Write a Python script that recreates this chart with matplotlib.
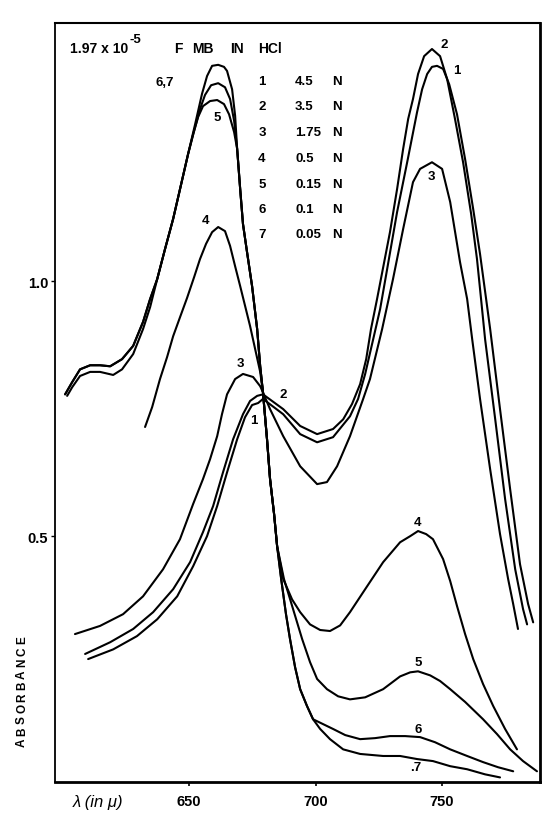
import matplotlib
matplotlib.use("Agg")
import matplotlib.pyplot as plt

plt.rcParams['font.family'] = ['Liberation Sans', 'DejaVu Sans']

W, H = 550, 828

# ---------------- data (wavelength in m\u03bc, absorbance) ----------------
c7_wl = [601.0, 603.8, 606.9, 610.9, 614.8, 618.8, 623.5, 627.9, 631.8, 634.6,
         637.4, 640.5, 643.7, 646.4, 649.6, 652.4, 655.1, 657.1, 659.1, 661.5,
         663.8, 665.0, 667.0, 668.2, 669.0, 670.2, 671.3, 672.9, 674.9, 676.9,
         678.1, 679.2, 680.8, 682.0, 683.6, 684.8, 686.4, 688.3, 689.9, 691.9,
         693.9, 696.6, 699.0, 701.8, 705.7, 710.9, 717.6, 726.7, 733.4, 740.1,
         746.4, 753.2, 759.9, 767.0, 772.9]
c7_a = [0.778, 0.802, 0.827, 0.835, 0.835, 0.833, 0.847, 0.873, 0.920, 0.965,
        1.004, 1.063, 1.122, 1.180, 1.249, 1.308, 1.367, 1.402, 1.422, 1.424,
        1.420, 1.412, 1.376, 1.324, 1.259, 1.180, 1.112, 1.057, 0.990, 0.906,
        0.833, 0.782, 0.690, 0.612, 0.543, 0.480, 0.416, 0.347, 0.298, 0.243,
        0.200, 0.167, 0.141, 0.122, 0.102, 0.082, 0.073, 0.069, 0.069, 0.063,
        0.059, 0.049, 0.043, 0.033, 0.027]

c6_wl = [601.0, 603.8, 606.9, 610.9, 614.8, 618.8, 623.5, 627.9, 631.8, 634.6,
         637.4, 640.5, 643.7, 646.4, 649.6, 652.4, 654.3, 656.3, 658.7, 661.5,
         664.2, 666.2, 667.8, 669.0, 670.2, 671.3, 672.9, 674.9, 676.9, 678.1,
         679.2, 680.8, 682.0, 683.6, 684.8, 686.4, 688.3, 689.9, 691.9, 693.9,
         696.6, 699.0, 706.9, 711.7, 717.6, 723.5, 729.4, 735.4, 741.3, 747.2,
         753.2, 759.9, 766.2, 772.1, 778.1]
c6_a = [0.778, 0.802, 0.827, 0.835, 0.835, 0.833, 0.847, 0.873, 0.920, 0.965,
        1.004, 1.063, 1.122, 1.180, 1.249, 1.302, 1.337, 1.365, 1.384, 1.388,
        1.380, 1.357, 1.314, 1.259, 1.180, 1.112, 1.057, 0.990, 0.906, 0.833,
        0.782, 0.690, 0.612, 0.543, 0.480, 0.416, 0.347, 0.298, 0.243, 0.200,
        0.167, 0.141, 0.122, 0.110, 0.102, 0.104, 0.108, 0.108, 0.106, 0.096,
        0.082, 0.069, 0.057, 0.047, 0.039]

c5_wl = [601.8, 603.8, 606.9, 610.9, 614.8, 620.0, 623.5, 627.9, 631.8, 634.6,
         637.4, 640.5, 643.7, 646.4, 649.6, 651.6, 653.6, 655.5, 658.3, 661.1,
         663.8, 665.8, 667.8, 669.0, 670.2, 671.3, 672.9, 674.9, 676.9, 678.1,
         679.2, 680.8, 682.0, 683.6, 684.8, 687.5, 691.1, 694.7, 697.8, 700.6,
         704.5, 708.9, 713.6, 719.6, 726.7, 733.4, 737.4, 740.5, 745.3, 749.2,
         753.2, 759.1, 766.2, 771.7, 776.9, 782.0, 787.5]
c5_a = [0.775, 0.792, 0.814, 0.822, 0.822, 0.816, 0.827, 0.857, 0.906, 0.949,
        1.004, 1.063, 1.122, 1.180, 1.249, 1.288, 1.322, 1.343, 1.353, 1.355,
        1.347, 1.327, 1.292, 1.259, 1.180, 1.112, 1.057, 0.990, 0.906, 0.833,
        0.782, 0.690, 0.612, 0.543, 0.480, 0.416, 0.357, 0.298, 0.253, 0.220,
        0.200, 0.186, 0.180, 0.184, 0.200, 0.225, 0.233, 0.235, 0.227, 0.216,
        0.200, 0.175, 0.141, 0.112, 0.082, 0.059, 0.039]

c4_wl = [632.6, 635.4, 638.5, 641.3, 643.7, 646.4, 649.2, 652.0, 654.3, 656.7,
         659.1, 661.5, 664.2, 666.2, 668.2, 670.2, 674.1, 678.1, 679.2, 680.8,
         682.0, 683.6, 684.8, 687.2, 690.7, 693.9, 697.8, 701.8, 705.7, 709.7,
         713.6, 719.6, 726.7, 733.4, 737.4, 740.5, 743.7, 746.4, 750.4, 753.2,
         755.9, 759.1, 762.3, 766.2, 770.2, 774.9, 779.6]
c4_a = [0.714, 0.753, 0.808, 0.851, 0.892, 0.929, 0.967, 1.008, 1.043, 1.073,
        1.096, 1.106, 1.098, 1.069, 1.029, 0.990, 0.912, 0.822, 0.782, 0.690,
        0.612, 0.543, 0.480, 0.416, 0.376, 0.351, 0.327, 0.316, 0.314, 0.325,
        0.351, 0.396, 0.449, 0.488, 0.500, 0.510, 0.504, 0.494, 0.455, 0.412,
        0.363, 0.308, 0.259, 0.210, 0.167, 0.122, 0.082]

c3_wl = [604.9, 614.8, 623.9, 631.8, 639.7, 646.4, 651.6, 655.5, 658.3, 661.1,
         663.0, 665.0, 668.2, 671.3, 675.3, 678.1, 679.2, 682.0, 687.2, 693.9,
         700.6, 704.5, 708.5, 713.6, 718.8, 721.5, 726.3, 730.6, 734.6, 738.5,
         741.3, 746.0, 750.0, 753.2, 757.1, 759.9, 761.9, 765.0, 769.0, 772.9,
         776.1, 778.1, 780.0]
c3_a = [0.308, 0.324, 0.347, 0.382, 0.435, 0.494, 0.563, 0.612, 0.651, 0.696,
        0.739, 0.778, 0.808, 0.818, 0.812, 0.794, 0.782, 0.749, 0.696, 0.637,
        0.602, 0.606, 0.637, 0.696, 0.769, 0.808, 0.906, 1.004, 1.102, 1.194,
        1.220, 1.233, 1.220, 1.155, 1.037, 0.965, 0.886, 0.769, 0.631, 0.504,
        0.416, 0.367, 0.318]

c2_wl = [608.9, 618.8, 627.9, 635.8, 643.7, 650.4, 655.5, 659.5, 663.4, 667.4,
         671.3, 674.1, 676.9, 679.2, 687.2, 693.9, 700.6, 706.9, 710.9, 714.4,
         717.6, 720.0, 721.9, 724.3, 727.1, 729.4, 732.2, 734.6, 736.6, 738.5,
         740.5, 742.9, 746.0, 749.2, 752.0, 755.1, 758.3, 761.5, 763.8, 765.4,
         767.0, 771.0, 774.9, 778.9, 782.0, 783.6]
c2_a = [0.269, 0.292, 0.318, 0.351, 0.396, 0.449, 0.508, 0.559, 0.625, 0.690,
        0.739, 0.765, 0.775, 0.778, 0.749, 0.716, 0.700, 0.710, 0.729, 0.759,
        0.798, 0.847, 0.906, 0.965, 1.037, 1.096, 1.180, 1.259, 1.318, 1.357,
        1.406, 1.441, 1.455, 1.441, 1.396, 1.318, 1.233, 1.131, 1.043, 0.965,
        0.886, 0.729, 0.573, 0.435, 0.357, 0.327]

c1_wl = [610.1, 620.0, 629.4, 637.4, 645.3, 651.6, 657.1, 661.1, 665.0, 669.0,
         672.1, 674.9, 677.3, 679.2, 687.2, 693.9, 700.6, 706.9, 713.6, 716.8,
         719.6, 722.3, 725.5, 728.3, 732.2, 736.2, 740.1, 742.1, 744.1, 746.0,
         748.0, 750.4, 752.8, 755.9, 759.1, 762.3, 765.0, 767.4, 769.0, 772.9,
         776.9, 780.8, 784.0, 786.0]
c1_a = [0.259, 0.278, 0.304, 0.337, 0.382, 0.441, 0.500, 0.559, 0.625, 0.690,
        0.733, 0.757, 0.761, 0.769, 0.739, 0.700, 0.684, 0.694, 0.735, 0.769,
        0.818, 0.876, 0.945, 1.024, 1.135, 1.233, 1.331, 1.376, 1.406, 1.420,
        1.422, 1.416, 1.386, 1.327, 1.239, 1.141, 1.053, 0.965, 0.906, 0.749,
        0.592, 0.445, 0.367, 0.331]

legend_nums = ['1', '2', '3', '4', '5', '6', '7']
legend_conc = ['4.5', '3.5', '1.75', '0.5', '0.15', '0.1', '0.05']
legend_unit = 'N'
x_ticks = [650, 700, 750]
y_ticks = [0.5, 1.0]
y_ticklabels = ['0.5', '1.0']

# ---------------- figure ----------------
fig = plt.figure(figsize=(W / 100, H / 100), dpi=100)
ax = fig.add_axes([55 / W, 1 - 783 / H, (540 - 55) / W, (783 - 24) / H])
ax.set_xlim(597.0, 788.7)
ax.set_ylim(0.018, 1.506)

lw = 1.5
for wl, a in [(c1_wl, c1_a), (c2_wl, c2_a), (c3_wl, c3_a), (c4_wl, c4_a),
              (c5_wl, c5_a), (c6_wl, c6_a), (c7_wl, c7_a)]:
    ax.plot(wl, a, color='black', lw=lw, solid_joinstyle='round', solid_capstyle='round')

ax.spines['left'].set_linewidth(1.3)
ax.spines['bottom'].set_linewidth(2.0)
ax.spines['right'].set_linewidth(2.0)
ax.spines['top'].set_linewidth(1.5)

ax.set_xticks(x_ticks)
ax.set_xticklabels([str(t) for t in x_ticks], fontsize=10.5, fontweight='bold')
ax.set_yticks(y_ticks)
ax.set_yticklabels(y_ticklabels, fontsize=10.5, fontweight='bold')
ax.tick_params(axis='x', direction='out', length=3, width=1.2, pad=6)
ax.tick_params(axis='y', direction='out', length=3, width=1.0, pad=2)


def ptext(x, y, s, ha='center', va='center', **kw):
    fig.text(x / W, 1 - y / H, s, ha=ha, va=va, **kw)


bold = dict(fontsize=9.5, fontweight='bold')
head = dict(fontsize=10, fontweight='bold')

# header
ptext(70, 49, '1.97 x 10', ha='left', **head)
ptext(130, 40, '-5', ha='left', fontsize=9.5, fontweight='bold')
ptext(174, 49, 'F', ha='left', **head)
ptext(192, 49, 'MB', ha='left', **head)
ptext(230, 49, 'IN', ha='left', **head)
ptext(258, 49, 'HCl', ha='left', **head)

# legend table
rows_y = [82, 107, 133, 159, 185, 210, 235]
for n, c, y in zip(legend_nums, legend_conc, rows_y):
    ptext(262, y, n, **bold)
    ptext(295, y, c, ha='left', **bold)
    ptext(342, y, legend_unit, ha='right', **bold)

# curve labels
for (x, y, s) in [(165, 83, '6,7'), (217, 118, '5'), (205, 221, '4'),
                  (240, 364, '3'), (283, 395, '2'), (254, 421, '1'),
                  (444, 45, '2'), (457, 71, '1'), (431, 177, '3'),
                  (418, 523, '4'), (418, 663, '5'), (418, 730, '6'),
                  (416, 768, '.7')]:
    ptext(x, y, s, **bold)

# axis labels
ptext(98, 803, '\u03bb (in \u03bc)', fontsize=12, style='italic')
ylab = 'ABSORBANCE'
for i, ch in enumerate(ylab):
    ptext(22, 743 - i * 11.4, ch, rotation=90, fontsize=8.5, fontweight='bold')

fig.savefig('out.png', dpi=100)
